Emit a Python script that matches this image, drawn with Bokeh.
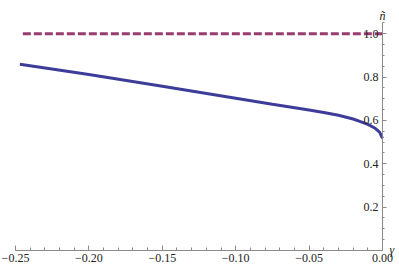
from bokeh.plotting import figure
from bokeh.models import FixedTicker, Range1d, Label
from bokeh.embed import file_html
from bokeh.resources import INLINE

# data
gamma = [-0.247, -0.20, -0.15, -0.10, -0.075, -0.05, -0.04, -0.03, -0.02, -0.015, -0.01, -0.005, -0.002, 0.0]
n_tilde = [0.859, 0.812, 0.758, 0.703, 0.675, 0.648, 0.637, 0.624, 0.607, 0.595, 0.582, 0.564, 0.546, 0.517]
ref_gamma = [-0.245, 0.0]
ref_n = [1.0, 1.0]

x_ticks = [-0.25, -0.20, -0.15, -0.10, -0.05, 0.0]
x_tick_labels = ["\u22120.25", "\u22120.20", "\u22120.15", "\u22120.10", "\u22120.05", "0.00"]
x_minor = [round(-0.25 + 0.01 * i, 2) for i in range(26)]
y_ticks = [0.2, 0.4, 0.6, 0.8, 1.0]
y_tick_labels = ["0.2", "0.4", "0.6", "0.8", "1.0"]
y_minor = [round(0.05 * i, 2) for i in range(1, 22)]

p = figure(width=399, height=268, output_backend="svg", toolbar_location=None,
           x_range=Range1d(-0.26022, 0.01158), y_range=Range1d(-0.0831, 1.1537),
           min_border_left=0, min_border_right=0, min_border_top=0, min_border_bottom=0)
p.outline_line_color = None
p.xgrid.visible = False
p.ygrid.visible = False
p.background_fill_color = "white"
p.border_fill_color = "white"

p.line(ref_gamma, ref_n, line_color="#993D71", line_width=3, line_dash="8 3")
p.line(gamma, n_tilde, line_color="#3D3D99", line_width=3)

axis_color = "#8a8a8a"
label_font = "serif"

xa = p.xaxis[0]
xa.fixed_location = 0
xa.bounds = (-0.25, 0.0)
xa.ticker = FixedTicker(ticks=x_ticks, minor_ticks=x_minor)
xa.major_label_overrides = {t: l for t, l in zip(x_ticks, x_tick_labels)}
xa.axis_line_color = axis_color
xa.major_tick_line_color = axis_color
xa.minor_tick_line_color = axis_color
xa.major_tick_in = 5
xa.major_tick_out = 0
xa.minor_tick_in = 3
xa.minor_tick_out = 0
xa.major_label_standoff = 4
xa.major_label_text_font = label_font
xa.major_label_text_font_size = "12px"
xa.major_label_text_color = "#222222"

ya = p.yaxis[0]
ya.fixed_location = 0
ya.bounds = (0.0, 1.052)
ya.ticker = FixedTicker(ticks=y_ticks, minor_ticks=y_minor)
ya.major_label_overrides = {t: l for t, l in zip(y_ticks, y_tick_labels)}
ya.axis_line_color = axis_color
ya.major_tick_line_color = axis_color
ya.minor_tick_line_color = axis_color
ya.major_tick_in = 4
ya.major_tick_out = 0
ya.minor_tick_in = 2
ya.minor_tick_out = 0
ya.major_label_standoff = 4
ya.major_label_text_font = label_font
ya.major_label_text_font_size = "12px"
ya.major_label_text_color = "#222222"

p.add_layout(Label(x=0.0, y=1.08, text="\u00f1", text_align="center", text_baseline="middle",
                   text_font=label_font, text_font_style="italic",
                   text_font_size="12px", text_color="#222222"))
p.add_layout(Label(x=0.0, y=0.0, text="\u03b3", text_align="left", text_baseline="middle",
                   x_offset=7, text_font=label_font, text_font_style="italic",
                   text_font_size="12px", text_color="#222222"))

open("out.html", "w").write(file_html(p, INLINE))
